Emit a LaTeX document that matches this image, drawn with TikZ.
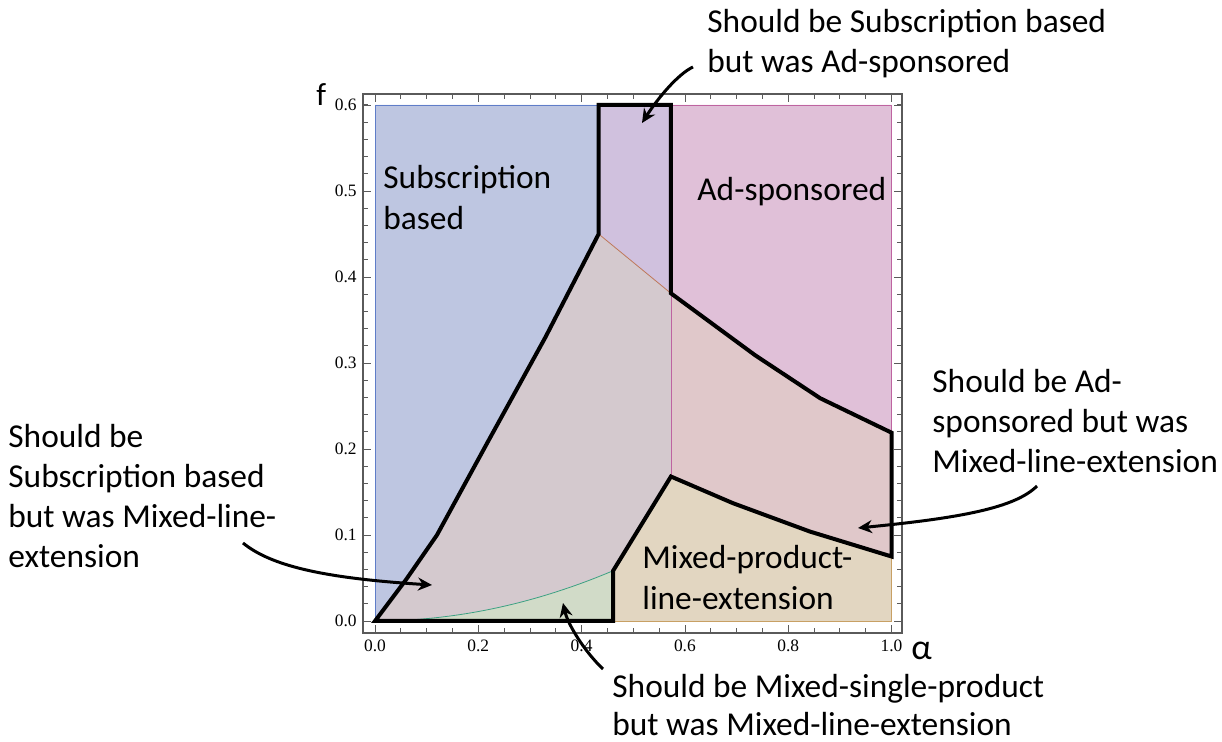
\documentclass[tikz,border=0pt]{standalone}
\usepackage{fontspec}
\setmainfont{Carlito}
\newfontfamily\tickfont{Liberation Serif}
\usetikzlibrary{arrows.meta}
\definecolor{subblue}{RGB}{190,198,225}
\definecolor{subline}{RGB}{95,125,200}
\definecolor{mixpurple}{RGB}{208,193,222}
\definecolor{adpink}{RGB}{224,192,216}
\definecolor{adline}{RGB}{190,100,160}
\definecolor{mlgrey}{RGB}{212,201,206}
\definecolor{mlpeach}{RGB}{224,200,202}
\definecolor{mptan}{RGB}{226,214,193}
\definecolor{mpline}{RGB}{200,160,100}
\definecolor{msgreen}{RGB}{209,219,200}
\definecolor{msline}{RGB}{60,160,130}
\definecolor{bdline}{RGB}{190,120,90}
\definecolor{axisgray}{RGB}{90,90,90}

\begin{document}
\begin{tikzpicture}[x=0.5pt,y=-0.5pt,
  note/.style={anchor=base west,align=left,inner sep=0pt,font=\fontsize{16.7}{20}\selectfont},
  region/.style={anchor=base west,align=left,inner sep=0pt,font=\fontsize{16.7}{20.5}\selectfont},
  arr/.style={line width=1.5pt,-{Stealth[length=7pt,width=6.5pt]}},
  ticklab/.style={inner sep=0pt,font=\tickfont\fontsize{8.7}{10}\selectfont}]
  \useasboundingbox (0,0) rectangle (1222,742);
  %PLOT (alpha, f)
  \begin{scope}[xshift=187.5pt,yshift=-310.5pt,x=258.25pt,y=430pt]
    \coordinate (O) at (0,0);
    \coordinate (P1) at (0.06,0.048);
    \coordinate (P2) at (0.12,0.1);
    \coordinate (P3) at (0.22,0.21);
    \coordinate (P4) at (0.33,0.33);
    \coordinate (Q) at (0.433,0.45);
    \coordinate (R) at (0.573,0.381);
    \coordinate (U1) at (0.736,0.309);
    \coordinate (U2) at (0.862,0.259);
    \coordinate (U3) at (1,0.219);
    \coordinate (L0) at (0.573,0.168);
    \coordinate (L1) at (0.693,0.137);
    \coordinate (L2) at (0.842,0.104);
    \coordinate (L3) at (1,0.075);
    \coordinate (K) at (0.461,0.0584);
    %regions
    \fill[subblue] (O) -- (0,0.6) -- (0.433,0.6) -- (Q) -- (P4) -- (P3) -- (P2) -- (P1) -- cycle;
    \fill[mixpurple] (0.433,0.6) -- (0.573,0.6) -- (R) -- (Q) -- cycle;
    \fill[adpink] (0.573,0.6) -- (1,0.6) -- (U3) -- (U2) -- (U1) -- (R) -- cycle;
    \fill[mlgrey] (O) -- (P1) -- (P2) -- (P3) -- (P4) -- (Q) -- (R) -- (L0) -- (K)
      -- plot[domain=0.461:0] (\x,{0.275*\x*\x}) -- cycle;
    \fill[mlpeach] (R) -- (U1) -- (U2) -- (U3) -- (L3) -- (L2) -- (L1) -- (L0) -- cycle;
    \fill[mptan] (0.461,0) -- (K) -- (L0) -- (L1) -- (L2) -- (L3) -- (1,0) -- cycle;
    \fill[msgreen] (O) -- plot[domain=0:0.461] (\x,{0.275*\x*\x}) -- (0.461,0) -- cycle;
    %thin borders
    \draw[subline,thin] (0,0) -- (0,0.6) -- (0.433,0.6);
    \draw[adline,thin] (0.433,0.6) -- (1,0.6) -- (U3) (R) -- (L0);
    \draw[bdline,thin] (Q) -- (R);
    \draw[msline,thin] plot[domain=0.08:0.461] (\x,{0.275*\x*\x});
    \draw[mpline,thin] (0.461,0) -- (1,0) -- (L3);
    %thick outline
    \draw[line width=2pt,line join=miter] (0.433,0.6) -- (0.573,0.6) -- (R) -- (U1) -- (U2) -- (U3)
      -- (L3) -- (L2) -- (L1) -- (L0) -- (K) -- (0.461,0) -- (O) -- (P1) -- (P2) -- (P3) -- (P4) -- (Q) -- cycle;
    %frame and ticks
    \draw[axisgray,line width=0.8pt] (-0.0232,-0.014) rectangle (1.0203,0.6128);
    \foreach \i in {0,...,20}
      \draw[axisgray,thin] (\i*0.05,-0.014) -- ++(0,2.5pt) (\i*0.05,0.6128) -- ++(0,-2.5pt);
    \foreach \i in {0,...,30}
      \draw[axisgray,thin] (-0.0232,\i*0.02) -- ++(2.5pt,0) (1.0203,\i*0.02) -- ++(-2.5pt,0);
    \foreach \v in {0.0,0.2,0.4,0.6,0.8,1.0}{
      \draw[axisgray,thin] (\v,-0.014) -- ++(0,4pt) (\v,0.6128) -- ++(0,-4pt);
      \node[ticklab,anchor=north,yshift=-3pt] at (\v,-0.014) {\v};
    }
    \foreach \v in {0.0,0.1,0.2,0.3,0.4,0.5,0.6}{
      \draw[axisgray,thin] (-0.0232,\v) -- ++(4pt,0) (1.0203,\v) -- ++(-4pt,0);
      \node[ticklab,anchor=east,xshift=-3pt] at (-0.0232,\v) {\v};
    }
  \end{scope}
  %AXIS NAMES
  \node[anchor=base west,inner sep=0pt,font=\fontsize{16}{18}\selectfont] (flabel) at (316,106) {f};
  \node[anchor=base west,inner sep=0pt,font=\fontsize{18}{20}\selectfont] (alabel) at (911,660) {α};
  %REGION NAMES (base = last line)
  \node[region] (subl) at (383,230) {Subscription\\based};
  \node[region] (adl) at (697,201) {Ad-sponsored};
  \node[region] (mpl) at (642,610) {Mixed-product-\\line-extension};
  %NOTES
  \node[note] (topnote) at (707,73) {Should be Subscription based\\but was Ad-sponsored};
  \node[note] (rightnote) at (932,473) {Should be Ad-\\sponsored but was\\Mixed-line-extension};
  \node[note] (leftnote) at (8,568) {Should be\\Subscription based\\but was Mixed-line-\\extension};
  \node[note,font=\fontsize{16.7}{19}\selectfont] (botnote) at (612,736) {Should be Mixed-single-product\\but was Mixed-line-extension};
  %ARROWS
  \coordinate (s1) at (693,67);   \coordinate (t1) at (642,123);
  \coordinate (s2) at (1037,486); \coordinate (t2) at (858,528);
  \coordinate (s3) at (243,543);  \coordinate (t3) at (432,585);
  \coordinate (s4) at (603,669);  \coordinate (t4) at (563,603);
  \draw[arr] (s1) .. controls (678,74) and (658,98) .. (t1);
  \draw[arr] (s2) .. controls (1015,508) and (960,518) .. (t2);
  \draw[arr] (s3) .. controls (270,565) and (320,578) .. (t3);
  \draw[arr] (s4) .. controls (585,652) and (568,625) .. (t4);
\end{tikzpicture}
\end{document}
